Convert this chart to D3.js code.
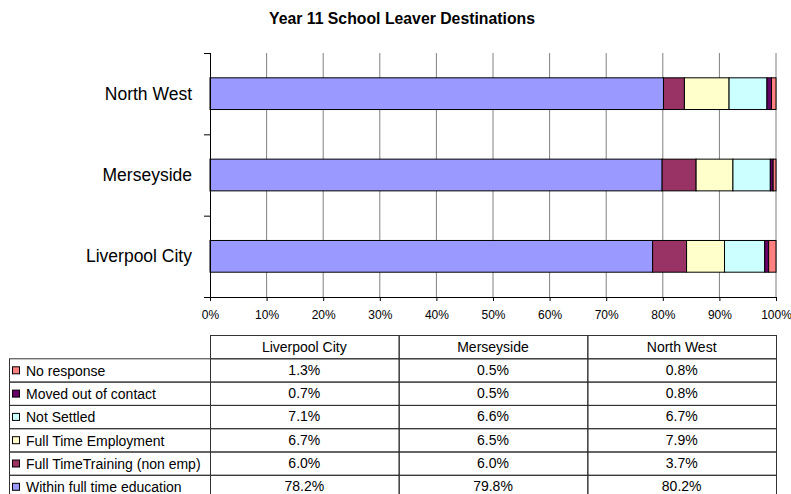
<!DOCTYPE html>
<html>
<head>
<meta charset="utf-8">
<script src="https://cdn.jsdelivr.net/npm/d3@7"></script>
<style>
  body { margin: 0; background: #fff; }
  svg { font-family: "Liberation Sans", Arial, sans-serif; }
</style>
</head>
<body>
<div id="chart"></div>
<script>
// areas as listed in the table (left to right)
const areas = ["Liverpool City", "Merseyside", "North West"];
// bar order top to bottom
const barOrder = ["North West", "Merseyside", "Liverpool City"];

// stacking order, left to right in the bars
const seriesNames = [
    "Within full time education",
    "Full TimeTraining (non emp)",
    "Full Time Employment",
    "Not Settled",
    "Moved out of contact",
    "No response"
];
const seriesColors = ["#9999FF", "#993366", "#FFFFCC", "#CCFFFF", "#660066", "#FF8080"];

// percentages per area, same order as areas
const education  = [78.2, 79.8, 80.2];
const training   = [6.0, 6.0, 3.7];
const employment = [6.7, 6.5, 7.9];
const notSettled = [7.1, 6.6, 6.7];
const movedOut   = [0.7, 0.5, 0.8];
const noResponse = [1.3, 0.5, 0.8];

const xTicks = [0, 0.1, 0.2, 0.3, 0.4, 0.5, 0.6, 0.7, 0.8, 0.9, 1];

const seriesValues = [education, training, employment, notSettled, movedOut, noResponse];

// build rows for d3.stack
let rows = areas.map((a, i) => {
    let row = { area: a };
    let total = d3.sum(seriesValues, s => s[i]);
    seriesNames.forEach((n, j) => { row[n] = seriesValues[j][i] / total; });
    return row;
});

const width = 791, height = 494;
const plot = { left: 210, right: 776, top: 53, bottom: 297 };

let svg = d3.select("#chart").
    append("svg").
    attr("width", width).
    attr("height", height);

svg.append("text").
    attr("x", 402).
    attr("y", 24).
    attr("text-anchor", "middle").
    attr("font-size", "15.8px").
    attr("font-weight", "bold").
    text("Year 11 School Leaver Destinations");

let x = d3.scaleLinear().domain([0, 1]).range([plot.left, plot.right]);
let y = d3.scaleBand().domain(barOrder).range([plot.top, plot.bottom]).padding(0);

// vertical gridlines
svg.append("g").
    selectAll("line").
    data(xTicks.slice(1)).
    enter().
    append("line").
    attr("x1", d => x(d)).
    attr("x2", d => x(d)).
    attr("y1", plot.top).
    attr("y2", plot.bottom).
    attr("stroke", "#808080").
    attr("stroke-width", 1);

// stacked bars
let stacked = d3.stack().keys(seriesNames)(rows);
let barH = y.bandwidth() * 0.39;

let layer = svg.append("g").
    selectAll("g").
    data(stacked).
    enter().
    append("g").
    attr("fill", (d, i) => seriesColors[i]);

layer.selectAll("rect").
    data(d => d).
    enter().
    append("rect").
    attr("x", d => x(d[0])).
    attr("y", d => y(d.data.area) + (y.bandwidth() - barH) / 2).
    attr("width", d => x(d[1]) - x(d[0])).
    attr("height", barH).
    attr("stroke", "#000").
    attr("stroke-width", 1);

// x axis
let xAxis = d3.axisBottom(x).
    tickValues(xTicks).
    tickFormat(d3.format(".0%")).
    tickSize(4).
    tickPadding(9);

let gx = svg.append("g").
    attr("transform", "translate(0," + plot.bottom + ")").
    call(xAxis);
gx.select(".domain").attr("stroke", "#000").attr("d", "M" + (plot.left - 6) + ",0.5H" + plot.right);
gx.selectAll(".tick line").attr("stroke", "#000");
gx.selectAll(".tick text").
    attr("font-size", "12px").
    attr("font-family", "Liberation Sans, Arial, sans-serif").
    attr("fill", "#000");

// y axis: separators between categories
let gy = svg.append("g");
gy.append("line").
    attr("x1", plot.left + 0.5).
    attr("x2", plot.left + 0.5).
    attr("y1", plot.top).
    attr("y2", plot.bottom).
    attr("stroke", "#000");
gy.selectAll("line.sep").
    data(barOrder.map(c => y(c))).
    enter().
    append("line").
    attr("class", "sep").
    attr("x1", plot.left - 6).
    attr("x2", plot.left).
    attr("y1", d => d + 0.5).
    attr("y2", d => d + 0.5).
    attr("stroke", "#000");
gy.selectAll("text").
    data(barOrder).
    enter().
    append("text").
    attr("x", 192).
    attr("y", d => y(d) + y.bandwidth() / 2 + 6).
    attr("text-anchor", "end").
    attr("font-size", "17.5px").
    text(d => d);

// data table
const rowH = 23.3;
const headerTop = 335;
let col = d3.scaleBand().domain(areas).range([plot.left, plot.right]);
let tableRows = seriesNames.slice().reverse();
let tableSeries = seriesValues.slice().reverse();
let colorsRev = seriesColors.slice().reverse();
let rowY = d3.scaleBand().domain(tableRows).range([headerTop + rowH, headerTop + rowH * 7]);

let table = svg.append("g").attr("font-size", "14px");

// header cells
table.selectAll("rect.head").
    data(areas).
    enter().
    append("rect").
    attr("class", "head").
    attr("x", d => col(d) + 0.5).
    attr("y", headerTop + 0.5).
    attr("width", col.bandwidth()).
    attr("height", rowH).
    attr("fill", "none").
    attr("stroke", "#333");

table.selectAll("text.head").
    data(areas).
    enter().
    append("text").
    attr("class", "head").
    attr("x", d => col(d) + col.bandwidth() / 2).
    attr("y", headerTop + 17).
    attr("text-anchor", "middle").
    text(d => d);

let tr = table.selectAll("g.row").
    data(tableRows).
    enter().
    append("g").
    attr("class", "row").
    attr("transform", d => "translate(0," + rowY(d) + ")");

// legend cell
tr.append("rect").
    attr("x", 9.5).
    attr("y", 0.5).
    attr("width", plot.left - 9).
    attr("height", rowH).
    attr("fill", "none").
    attr("stroke", "#333");

tr.append("rect").
    attr("x", 12.5).
    attr("y", 8.5).
    attr("width", 7).
    attr("height", 7).
    attr("fill", (d, i) => colorsRev[i]).
    attr("stroke", "#000");

tr.append("text").
    attr("x", 26).
    attr("y", 17.5).
    text(d => d);

// value cells
tr.each(function (d, i) {
    let g = d3.select(this);
    g.selectAll("rect.cell").
        data(areas).
        enter().
        append("rect").
        attr("class", "cell").
        attr("x", a => col(a) + 0.5).
        attr("y", 0.5).
        attr("width", col.bandwidth()).
        attr("height", rowH).
        attr("fill", "none").
        attr("stroke", "#333");
    g.selectAll("text.cell").
        data(tableSeries[i]).
        enter().
        append("text").
        attr("class", "cell").
        attr("x", (v, k) => col(areas[k]) + col.bandwidth() / 2).
        attr("y", 16.5).
        attr("text-anchor", "middle").
        text(v => v.toFixed(1) + "%");
});
</script>
</body>
</html>
